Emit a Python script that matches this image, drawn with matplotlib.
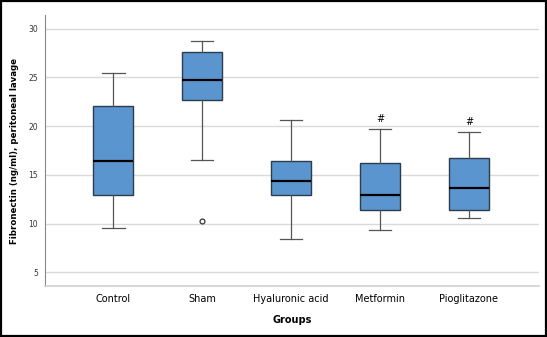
import matplotlib
matplotlib.use("Agg")
import matplotlib.pyplot as plt
from matplotlib.patches import Rectangle

groups = ['Control', 'Sham', 'Hyaluronic acid', 'Metformin', 'Pioglitazone']
whis_lo = [9.5, 16.5, 8.4, 9.3, 10.6]
q1 = [12.95, 22.7, 12.9, 11.4, 11.4]
medians = [16.45, 24.7, 14.4, 12.9, 13.7]
q3 = [22.1, 27.6, 16.4, 16.2, 16.7]
whis_hi = [25.4, 28.7, 20.65, 19.7, 19.4]
outliers = [[], [10.25], [], [], []]
marks = ['', '', '', '#', '#']

stats = []
for i, g in enumerate(groups):
    stats.append(dict(label=g, whislo=whis_lo[i], q1=q1[i], med=medians[i],
                      q3=q3[i], whishi=whis_hi[i], fliers=outliers[i]))

fig = plt.figure(figsize=(5.47, 3.37), dpi=100)
ax = fig.add_axes([0.0823, 0.1513, 0.9031, 0.8042])

ax.bxp(stats, positions=range(len(groups)), widths=0.45, patch_artist=True,
       boxprops=dict(facecolor='#5b95d0', edgecolor='#2d3b4b', linewidth=1.0),
       medianprops=dict(color='black', linewidth=1.6),
       whiskerprops=dict(color='#555555', linewidth=0.9),
       capprops=dict(color='#555555', linewidth=0.9),
       capwidths=0.25,
       flierprops=dict(marker='o', markersize=3.5, markerfacecolor='none',
                       markeredgecolor='#333333', markeredgewidth=0.9))

for i, m in enumerate(marks):
    if m:
        ax.text(i, whis_hi[i] + 0.5, m, ha='center', va='bottom', fontsize=7)

ax.set_xlim(-0.77, 4.79)
ax.set_ylim(3.6, 31.4)
ax.set_yticks([5, 10, 15, 20, 25, 30])
ax.yaxis.grid(True, color='#dadada', linewidth=1.0)
ax.set_axisbelow(True)
ax.tick_params(axis='y', length=0, labelsize=5.5, labelcolor='#333333', pad=5)
ax.tick_params(axis='x', length=0, labelsize=7, pad=6)
for s in ['top', 'right']:
    ax.spines[s].set_visible(False)
ax.spines['left'].set_color('#888888')
ax.spines['bottom'].set_color('#cfcfcf')
ax.spines['bottom'].set_linewidth(1.2)

ax.set_xlabel('Groups', fontsize=7, fontweight='bold', labelpad=8)
ax.set_ylabel('Fibronectin (ng/ml), peritoneal lavage', fontsize=6.2,
              fontweight='bold', labelpad=7)

fig.patches.append(Rectangle((0.002, 0.003), 0.996, 0.994, transform=fig.transFigure,
                             fill=False, edgecolor='black', linewidth=1.6))

fig.savefig('out.png', dpi=100)
